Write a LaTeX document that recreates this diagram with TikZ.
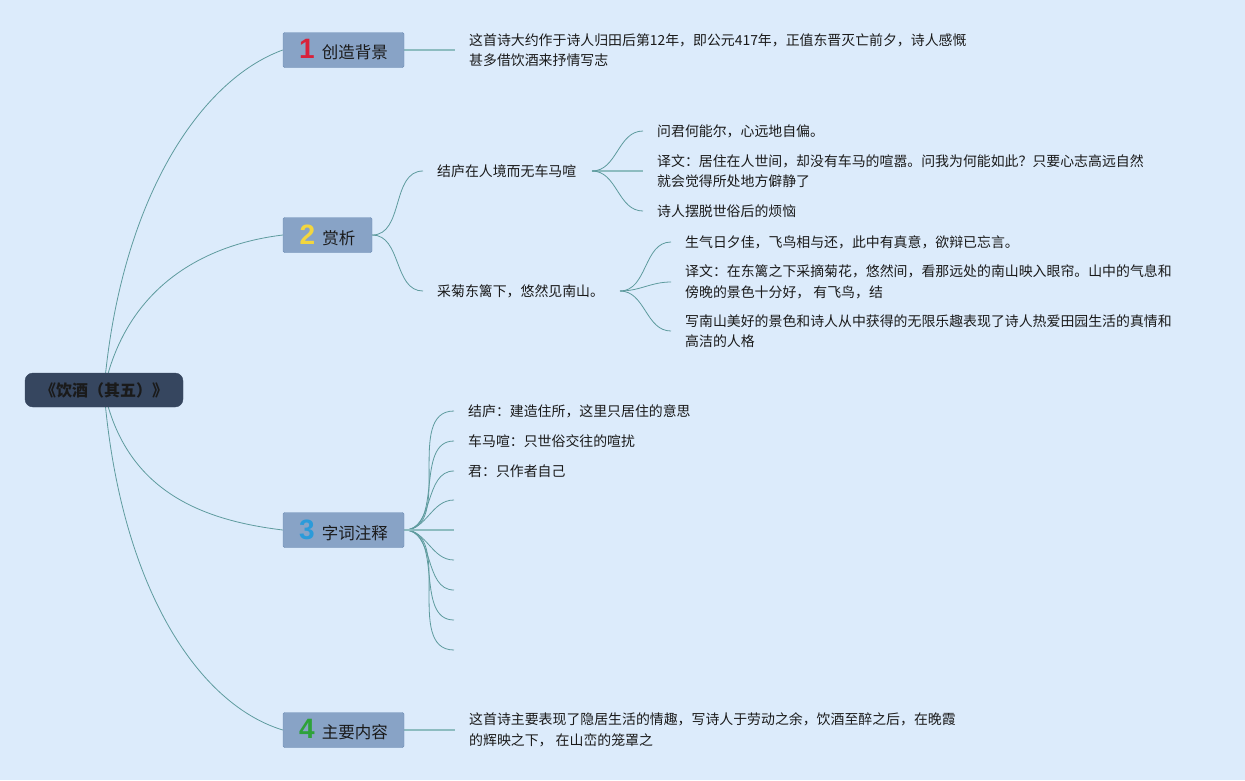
\documentclass[tikz,border=0pt]{standalone}
\usepackage{fontspec}
\setmainfont{Noto Sans CJK SC}
\newfontfamily\numfont{Liberation Sans}
\newcommand\bignum[2]{\textcolor{#1}{\fontsize{28}{28}\selectfont\numfont\bfseries #2}}
\usetikzlibrary{backgrounds}
\definecolor{bgc}{HTML}{DCEBFB}
\definecolor{rootc}{HTML}{36465F}
\definecolor{boxc}{HTML}{88A3C6}
\definecolor{boxd}{HTML}{6E8DB5}
\definecolor{linec}{HTML}{5E9B9E}
\definecolor{stubc}{HTML}{8DBCC0}
\definecolor{txtc}{HTML}{1A1A1A}
\definecolor{n1}{HTML}{D9213A}
\definecolor{n2}{HTML}{F3D63E}
\definecolor{n3}{HTML}{2B9BDA}
\definecolor{n4}{HTML}{2EA23A}
\tikzset{
  rootbox/.style={draw=rootc, fill=rootc, rounded corners=8pt, minimum width=158pt, minimum height=34pt, font=\fontsize{16}{18}\selectfont\bfseries, text=txtc, inner sep=0pt},
  topicbox/.style={draw=boxd, fill=boxc, rounded corners=1.5pt, minimum height=35pt, font=\fontsize{16.5}{18}\selectfont, text=txtc, inner sep=0pt},
  leaf/.style={anchor=west, inner xsep=14pt, inner ysep=2pt, align=left, font=\fontsize{13.9}{20.5}\selectfont, text=txtc},
  conn/.style={draw=linec, line width=0.8pt},
  stub/.style={draw=stubc, line width=1.6pt}
}
\begin{document}
\begin{tikzpicture}[x=1pt,y=-1pt]
\useasboundingbox (0,0) rectangle (1245,780);
% nodes
\node[rootbox] (root) at (104,390) {《饮酒（其五）》};
\node[topicbox, minimum width=121pt] (t1) at (343.5,50) {\bignum{n1}{1}\hspace{7pt}创造背景};
\node[topicbox, minimum width=89pt] (t2) at (327.5,235) {\bignum{n2}{2}\hspace{7pt}赏析};
\node[topicbox, minimum width=121pt] (t3) at (343.5,530) {\bignum{n3}{3}\hspace{7pt}字词注释};
\node[topicbox, minimum width=121pt] (t4) at (343.5,730) {\bignum{n4}{4}\hspace{7pt}主要内容};
% topic 1 / 4 texts
\node[leaf] (t1a) at (455,50) {这首诗大约作于诗人归田后第12年，即公元417年，正值东晋灭亡前夕，诗人感慨\\甚多借饮酒来抒情写志};
\node[leaf] (t4a) at (455,730) {这首诗主要表现了隐居生活的情趣，写诗人于劳动之余，饮酒至醉之后，在晚霞\\的辉映之下， 在山峦的笼罩之};
% topic 2
\node[leaf] (s1) at (423,171) {结庐在人境而无车马喧};
\node[leaf] (s2) at (423,291) {采菊东篱下，悠然见南山。};
\node[leaf] (s1a) at (643,131) {问君何能尔，心远地自偏。};
\node[leaf] (s1b) at (643,171) {译文：居住在人世间，却没有车马的喧嚣。问我为何能如此？只要心志高远自然\\就会觉得所处地方僻静了};
\node[leaf] (s1c) at (643,211) {诗人摆脱世俗后的烦恼};
\node[leaf] (s2a) at (671,242) {生气日夕佳，飞鸟相与还，此中有真意，欲辩已忘言。};
\node[leaf] (s2b) at (671,282) {译文：在东篱之下采摘菊花，悠然间，看那远处的南山映入眼帘。山中的气息和\\傍晚的景色十分好， 有飞鸟，结};
\node[leaf] (s2c) at (671,331) {写南山美好的景色和诗人从中获得的无限乐趣表现了诗人热爱田园生活的真情和\\高洁的人格};
% topic 3
\node[leaf] (w1) at (454,411) {结庐：建造住所，这里只居住的意思};
\node[leaf] (w2) at (454,441) {车马喧：只世俗交往的喧扰};
\node[leaf] (w3) at (454,471) {君：只作者自己};
\coordinate (w4) at (454,500);
\coordinate (w5) at (454,530);
\coordinate (w6) at (454,560);
\coordinate (w7) at (454,590);
\coordinate (w8) at (454,620);
\coordinate (w9) at (454,650);
\coordinate (s1o) at (592,171);
\coordinate (s2o) at (620,291);
\begin{scope}[on background layer]
\fill[bgc] (0,0) rectangle (1245,780);
% root connectors
\draw[conn] (root.center) .. controls (120,200) and (200,80) .. (t1.west);
\draw[conn] (root.center) .. controls (125,290) and (200,245) .. (t2.west);
\draw[conn] (root.center) .. controls (125,490) and (200,520) .. (t3.west);
\draw[conn] (root.center) .. controls (120,590) and (200,705) .. (t4.west);
% topic 1, 4
\draw[stub] (t1.east) -- (t1a.west);
\draw[stub] (t4.east) -- (t4a.west);
% topic 2
\draw[conn] (t2.east) to[out=0,in=180] (s1.west);
\draw[conn] (t2.east) to[out=0,in=180] (s2.west);
\draw[stub] (s1o) -- (s1b.west);
\draw[conn] (s1o) to[out=0,in=180] (s1a.west);
\draw[conn] (s1o) to[out=0,in=180] (s1c.west);
\draw[conn] (s2o) to[out=0,in=180] (s2a.west);
\draw[conn] (s2o) to[out=0,in=180] (s2b.west);
\draw[conn] (s2o) to[out=0,in=180] (s2c.west);
% topic 3
\foreach \n in {w1,w2,w3,w4,w6,w7,w8,w9}{
  \draw[conn] (t3.east) to[out=0,in=180] (\n);
}
\draw[stub] (t3.east) -- (w5);
\end{scope}
\end{tikzpicture}
\end{document}
